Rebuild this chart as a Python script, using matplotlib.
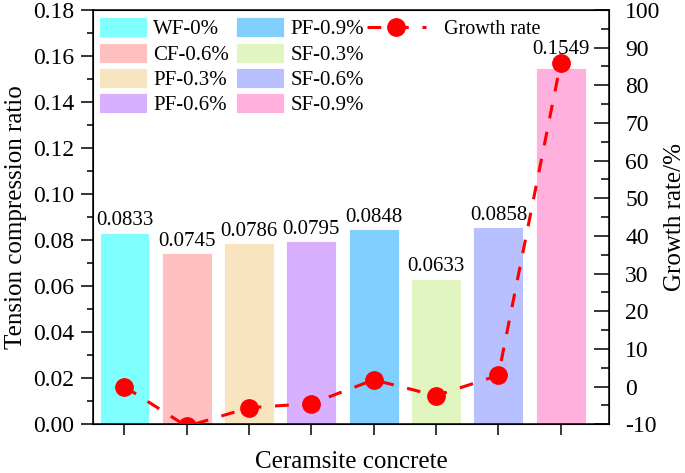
import numpy as np
import matplotlib
matplotlib.use('Agg')
import matplotlib.pyplot as plt
from matplotlib.ticker import MultipleLocator, FormatStrFormatter

plt.rcParams['font.family'] = ['Liberation Serif', 'DejaVu Serif']
plt.rcParams['axes.unicode_minus'] = False

# data
groups = ['WF-0%', 'CF-0.6%', 'PF-0.3%', 'PF-0.6%', 'PF-0.9%', 'SF-0.3%', 'SF-0.6%', 'SF-0.9%']
ratio = [0.0833, 0.0745, 0.0786, 0.0795, 0.0848, 0.0633, 0.0858, 0.1549]
growth = [0.0, -10.56, -5.6, -4.5, 1.8, -2.4, 3.0, 86.0]
bar_colors = ['#80FFFF', '#FFC0C0', '#F8E5C0', '#D8B0FF',
              '#80CFFF', '#E0F5C0', '#B8C0FF', '#FFB0DC']

fig = plt.figure(figsize=(6.85, 4.73), dpi=100)
ax = fig.add_axes([0.1362, 0.103, 0.7524, 0.876])
x = np.arange(1, len(groups) + 1)

bars = ax.bar(x, ratio, width=0.8, color=bar_colors, edgecolor='white', linewidth=0.6)
pads = [1.5] * (len(groups) - 1) + [6.5]
for rect, val, p in zip(bars, ratio, pads):
    ax.annotate(f'{val:.4f}', (rect.get_x() + rect.get_width() / 2, rect.get_height()),
                xytext=(0, p), textcoords='offset points', ha='center', va='bottom', fontsize=15)

ax.set_xlim(0.5, 8.77)
ax.set_ylim(0, 0.18)
ax.set_xticks(x)
ax.set_xticklabels([])
ax.yaxis.set_major_locator(MultipleLocator(0.02))
ax.yaxis.set_minor_locator(MultipleLocator(0.01))
ax.yaxis.set_major_formatter(FormatStrFormatter('%.2f'))
ax.tick_params(axis='y', which='major', direction='out', length=8.4, width=1.1, labelsize=17, pad=5.5)
ax.tick_params(axis='y', which='minor', direction='out', length=4.3, width=1.1)
ax.tick_params(axis='x', which='major', direction='out', length=7.7, width=1.1)
for s in ax.spines.values():
    s.set_linewidth(1.1)
ax.set_ylabel('Tension compression ratio', fontsize=18, labelpad=4)
ax.set_xlabel('Ceramsite concrete', fontsize=18, labelpad=8)

ax2 = ax.twinx()
ax2.plot(x, growth, color='red', linestyle=(0, (4.5, 4.5)), linewidth=2.2,
         marker='o', markersize=12.5, label='Growth rate')
ax2.set_ylim(-10, 100)
ax2.yaxis.set_major_locator(MultipleLocator(10))
ax2.yaxis.set_minor_locator(MultipleLocator(5))
ax2.tick_params(axis='y', which='major', direction='in', length=10.5, width=1.1, labelsize=17, pad=12)
ax2.tick_params(axis='y', which='minor', direction='in', length=5.5, width=1.1)
ax2.set_ylabel('Growth rate/%', fontsize=18, labelpad=2)

ax.legend(bars, groups, ncol=2, loc='upper left', bbox_to_anchor=(0.011, 0.982),
          frameon=False, fontsize=15, borderaxespad=0, borderpad=0,
          handlelength=2.29, handleheight=1.09, labelspacing=0.16,
          handletextpad=0.32, columnspacing=0.34)
ax2.legend(loc='center left', bbox_to_anchor=(0.531, 0.952), frameon=False, fontsize=14.5,
           borderaxespad=0, borderpad=0, handlelength=2.93, handletextpad=0.9, numpoints=1)

fig.savefig('out.png', dpi=100)
